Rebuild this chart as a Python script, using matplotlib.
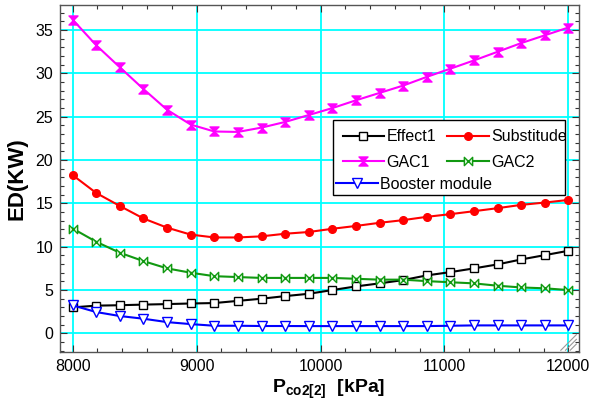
import matplotlib
matplotlib.use("Agg")
import matplotlib.pyplot as plt
from matplotlib.path import Path
from matplotlib.ticker import MultipleLocator
from matplotlib.lines import Line2D
from matplotlib.patches import Rectangle

plt.rcParams['font.family'] = ['Liberation Sans', 'DejaVu Sans']
plt.rcParams['mathtext.fontset'] = 'custom'
plt.rcParams['mathtext.rm'] = 'Liberation Sans'
plt.rcParams['mathtext.bf'] = 'Liberation Sans:bold'

# ---- data ----
pressure = [8000, 8190, 8381, 8571, 8762, 8952, 9143, 9333, 9524, 9714, 9905,
            10095, 10286, 10476, 10667, 10857, 11048, 11238, 11429, 11619, 11810, 12000]
effect1 = [3.0, 3.2, 3.25, 3.32, 3.38, 3.45, 3.5, 3.75, 4.0, 4.3, 4.57,
           5.0, 5.42, 5.77, 6.15, 6.69, 7.07, 7.5, 7.96, 8.53, 9.03, 9.53]
substitude = [18.26, 16.2, 14.7, 13.26, 12.2, 11.4, 11.07, 11.07, 11.2, 11.5, 11.7,
              12.07, 12.4, 12.76, 13.07, 13.45, 13.76, 14.1, 14.45, 14.83, 15.1, 15.4]
gac1 = [36.2, 33.25, 30.7, 28.2, 25.8, 24.1, 23.3, 23.25, 23.75, 24.4, 25.2,
        26.0, 26.9, 27.75, 28.6, 29.6, 30.55, 31.5, 32.5, 33.5, 34.4, 35.3]
gac2 = [12.1, 10.57, 9.3, 8.34, 7.5, 7.0, 6.6, 6.5, 6.4, 6.4, 6.4,
        6.4, 6.3, 6.2, 6.2, 6.03, 5.9, 5.77, 5.5, 5.3, 5.2, 5.0]
booster = [3.23, 2.46, 2.0, 1.69, 1.3, 1.07, 0.88, 0.88, 0.85, 0.85, 0.84,
           0.84, 0.84, 0.84, 0.84, 0.84, 0.88, 0.92, 0.92, 0.92, 0.92, 0.92]

x_ticks = [8000, 9000, 10000, 11000, 12000]
y_ticks = [0, 5, 10, 15, 20, 25, 30, 35]

# ---- markers ----
hourglass = Path([(-1, 1), (1, 1), (-1, -1), (1, -1), (-1, 1)],
                 [Path.MOVETO, Path.LINETO, Path.LINETO, Path.LINETO, Path.CLOSEPOLY])
bowtie = Path([(-1, 1), (1, -1), (1, 1), (-1, -1), (-1, 1)],
              [Path.MOVETO, Path.LINETO, Path.LINETO, Path.LINETO, Path.CLOSEPOLY])

fig = plt.figure(figsize=(5.89, 4.0), dpi=100)
ax = fig.add_axes([0.102, 0.12, 0.881, 0.8675])

lw = 1.5
h_eff, = ax.plot(pressure, effect1, color='black', lw=lw, marker='s', ms=6,
                 mfc='white', mec='black', mew=1.0, label='Effect1', zorder=3)
h_sub, = ax.plot(pressure, substitude, color='#ff0000', lw=lw, marker='o', ms=5.5,
                 mfc='#ff0000', mec='#ff0000', label='Substitude', zorder=3)
h_g1, = ax.plot(pressure, gac1, color='#ff00ff', lw=lw, marker=hourglass, ms=6.5,
                mfc='#ff00ff', mec='#ff00ff', mew=1.0, label='GAC1', zorder=3)
h_g2, = ax.plot(pressure, gac2, color='#119911', lw=lw, marker=bowtie, ms=6,
                mfc='#d8f5d8', mec='#119911', mew=1.0, label='GAC2', zorder=3)
h_bo, = ax.plot(pressure, booster, color='#0000ff', lw=lw, marker='v', ms=6.5,
                mfc='white', mec='#0000ff', mew=1.0, label='Booster module', zorder=3)

ax.set_xlim(7898, 12086)
ax.set_ylim(-2.15, 37.9)
ax.set_xticks(x_ticks)
ax.set_yticks(y_ticks)
ax.xaxis.set_minor_locator(MultipleLocator(200))
ax.yaxis.set_minor_locator(MultipleLocator(1))
ax.grid(True, which='major', color='#00ffff', lw=1.3, zorder=1)
ax.set_axisbelow(True)

for s in ax.spines.values():
    s.set_color('#555555')
    s.set_linewidth(1.0)

ax.tick_params(which='both', direction='in', top=True, right=True,
               colors='#333333', labelcolor='black', labelsize=11.5)
ax.tick_params(which='major', length=5, width=0.8, pad=5)
ax.tick_params(which='minor', length=3, width=0.8)

ax.set_ylabel('ED(KW)', fontsize=16, fontweight='bold', labelpad=6)
ax.set_xlabel(r'$\mathbf{P_{co2[2]}}$  [kPa]', fontsize=14, fontweight='bold',
              labelpad=3)
ax.xaxis.set_label_coords(0.518, -0.075)

# ---- legend: 2x2 block + a full-width last row, inside one frame ----
fx0, fx1, fy0, fy1 = 0.526, 0.973, 0.452, 0.669
frame = Rectangle((fx0, fy0), fx1 - fx0, fy1 - fy0, transform=ax.transAxes,
                  facecolor='white', edgecolor='black', lw=1.0, zorder=6)
ax.add_patch(frame)

common = dict(fontsize=11.5, numpoints=1, handlelength=2.6, handletextpad=0.15,
              borderaxespad=0.0, frameon=False)
leg1 = ax.legend([h_eff, h_g1, h_sub, h_g2],
                 ['Effect1', 'GAC1', 'Substitude', 'GAC2'],
                 ncol=2, loc='upper left', bbox_to_anchor=(fx0, fy1),
                 columnspacing=0.7, labelspacing=0.65, borderpad=0.6, **common)
leg1.set_zorder(7)
ax.add_artist(leg1)
leg2 = ax.legend([h_bo], ['Booster module'], loc='lower left',
                 bbox_to_anchor=(fx0, fy0), borderpad=0.2, **common)
leg2.set_zorder(7)

# resize grip decoration in the lower-right corner
for k in range(3):
    d = 0.012 + 0.009 * k
    ax.add_line(Line2D([0.995 - d, 0.995], [0.005, 0.005 + d * 1.5],
                       transform=ax.transAxes, color='#999999', lw=0.8, zorder=5))

fig.savefig('out.png', dpi=100)
